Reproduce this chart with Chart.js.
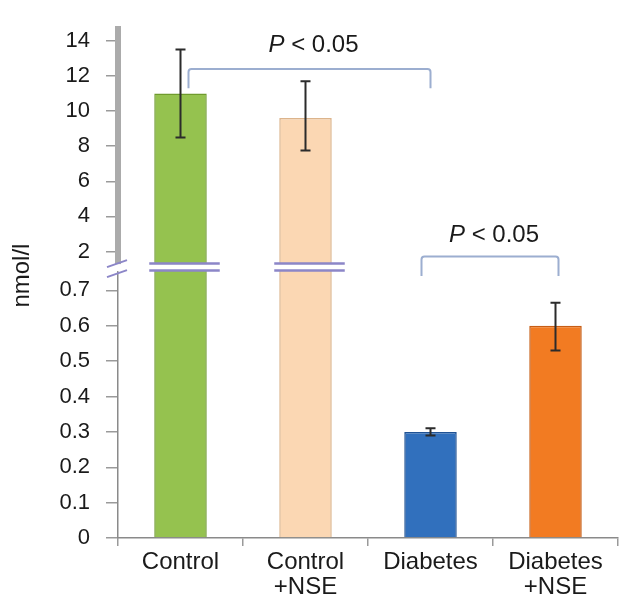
<!DOCTYPE html>
<html>
<head>
<meta charset="utf-8">
<script src="https://cdn.jsdelivr.net/npm/chart.js@4/dist/chart.umd.min.js"></script>
<style>
    html, body { margin: 0; padding: 0; background: #fff; }
</style>
</head>
<body>
<canvas id="barChart" width="619" height="600"></canvas>
<script>
// data
const categories = [['Control'], ['Control', '+NSE'], ['Diabetes'], ['Diabetes', '+NSE']];
const values = [11, 9.6, 0.3, 0.6];
const errHigh = [13.5, 11.7, 0.31, 0.665];
const errLow = [8.5, 7.75, 0.29, 0.53];
const upperTicks = [2, 4, 6, 8, 10, 12, 14];
const lowerTicks = [0, 0.1, 0.2, 0.3, 0.4, 0.5, 0.6, 0.7];
const barColors = ['#95c24f', '#fbd7b3', '#3170bd', '#f27b22'];
const edgeColors = ['#6f9b2d', '#dcb48c', '#1f5294', '#c75d14'];

// broken axis limits
const lowMin = 0, lowMax = 0.766;
const highMin = 1.116, highMax = 14.66;

// significance brackets
const brackets = [
    { from: 0, to: 2, dxFrom: 8, dxTo: 0, axis: 'yHigh', top: 12.4, legs: 11.3, label: 13.75 },
    { from: 2, to: 3, dxFrom: -9, dxTo: 3, axis: 'yLow', top: 0.796, legs: 0.741, label: 0.856 }
];

const FONT = '"Liberation Sans", Arial, sans-serif';

window.onload = function () {
    const ctx = document.getElementById('barChart');

    const errorBars = {
        id: 'errorBars',
        afterDatasetsDraw(chart) {
            const c = chart.ctx;
            const meta = chart.getDatasetMeta(0);
            c.save();
            c.strokeStyle = '#2b2b2b';
            c.lineWidth = 2;
            values.forEach(function (v, i) {
                const scale = v > highMin ? chart.scales.yHigh : chart.scales.yLow;
                const x = meta.data[i].x;
                const yTop = scale.getPixelForValue(errHigh[i]);
                const yBot = scale.getPixelForValue(errLow[i]);
                c.beginPath();
                c.moveTo(x, yTop); c.lineTo(x, yBot);
                c.moveTo(x - 5, yTop); c.lineTo(x + 5, yTop);
                c.moveTo(x - 5, yBot); c.lineTo(x + 5, yBot);
                c.stroke();
            });
            c.restore();
        }
    };

    const axisBreak = {
        id: 'axisBreak',
        afterDatasetsDraw(chart) {
            const c = chart.ctx;
            const yb = chart.scales.yLow.top;
            const meta = chart.getDatasetMeta(0);
            c.save();
            values.forEach(function (v, i) {
                if (v <= lowMax) return;
                const bar = meta.data[i];
                const l = bar.x - bar.width / 2 - 5;
                const r = bar.x + bar.width / 2 + 13;
                c.fillStyle = '#ffffff';
                c.fillRect(l, yb - 3, r - l, 6);
                c.strokeStyle = '#8c86c8';
                c.lineWidth = 2.5;
                c.beginPath();
                c.moveTo(l, yb - 3.5); c.lineTo(r, yb - 3.5);
                c.moveTo(l, yb + 3.5); c.lineTo(r, yb + 3.5);
                c.stroke();
            });
            // slashes on the y axis
            const ax = chart.chartArea.left;
            c.fillStyle = '#ffffff';
            c.fillRect(ax - 4, yb - 3, 8, 7);
            c.strokeStyle = '#8c86c8';
            c.lineWidth = 2;
            c.beginPath();
            c.moveTo(ax - 11, yb + 0); c.lineTo(ax + 9, yb - 7);
            c.moveTo(ax - 11, yb + 10); c.lineTo(ax + 9, yb + 3);
            c.stroke();
            c.restore();
        }
    };

    const annotations = {
        id: 'annotations',
        afterDraw(chart) {
            const c = chart.ctx;
            const meta = chart.getDatasetMeta(0);
            c.save();
            brackets.forEach(function (b) {
                const scale = chart.scales[b.axis];
                const x1 = meta.data[b.from].x + b.dxFrom;
                const x2 = meta.data[b.to].x + b.dxTo;
                const yt = scale.getPixelForValue(b.top);
                const yl = scale.getPixelForValue(b.legs);
                c.strokeStyle = '#9caed0';
                c.lineWidth = 2;
                c.beginPath();
                c.moveTo(x1, yl);
                c.lineTo(x1, yt + 3);
                c.quadraticCurveTo(x1, yt, x1 + 3, yt);
                c.lineTo(x2 - 3, yt);
                c.quadraticCurveTo(x2, yt, x2, yt + 3);
                c.lineTo(x2, yl);
                c.stroke();

                // "P < 0.05" with italic P
                const yLab = scale.getPixelForValue(b.label);
                c.fillStyle = '#1a1a1a';
                c.textBaseline = 'middle';
                c.font = 'italic 24px ' + FONT;
                const pW = c.measureText('P').width;
                c.font = '24px ' + FONT;
                const rest = ' < 0.05';
                const rW = c.measureText(rest).width;
                const xs = (x1 + x2) / 2 + 4 - (pW + rW) / 2;
                c.font = 'italic 24px ' + FONT;
                c.textAlign = 'left';
                c.fillText('P', xs, yLab);
                c.font = '24px ' + FONT;
                c.fillText(rest, xs + pW, yLab);
            });

            // y axis title
            const area = chart.chartArea;
            c.translate(22, (area.top + area.bottom) / 2 - 8);
            c.rotate(-Math.PI / 2);
            c.textAlign = 'center';
            c.textBaseline = 'middle';
            c.fillStyle = '#1a1a1a';
            c.font = '24px ' + FONT;
            c.fillText('nmol/l', 0, 0);
            c.restore();
        }
    };

    const yTickFont = { family: FONT, size: 22 };

    new Chart(ctx, {
        type: 'bar',
        data: {
            labels: categories,
            datasets: [{
                // lower part of every bar
                data: values.map(function (v) { return Math.min(v, lowMax); }),
                yAxisID: 'yLow',
                backgroundColor: barColors,
                borderColor: edgeColors,
                borderWidth: 1.5
            }, {
                // upper part of the tall bars
                data: values.map(function (v) { return v > highMin ? [highMin, v] : null; }),
                yAxisID: 'yHigh',
                backgroundColor: barColors,
                borderColor: edgeColors,
                borderWidth: 1.5
            }]
        },
        options: {
            responsive: false,
            animation: false,
            devicePixelRatio: 1,
            grouped: false,
            barPercentage: 0.42,
            categoryPercentage: 1,
            layout: {
                padding: { top: 14, left: 0, right: 1, bottom: 0 }
            },
            plugins: {
                legend: { display: false },
                tooltip: { enabled: false }
            },
            scales: {
                x: {
                    grid: {
                        offset: true,
                        drawOnChartArea: false,
                        tickLength: 8,
                        color: '#9a9a9a',
                        lineWidth: 1.5
                    },
                    border: { color: '#8a8a8a', width: 1.5 },
                    ticks: {
                        font: { family: FONT, size: 24, lineHeight: 1.05 },
                        color: '#1a1a1a',
                        padding: 4,
                        maxRotation: 0
                    },
                    afterFit(scale) { scale.height = 62; }
                },
                yLow: {
                    type: 'linear',
                    position: 'left',
                    stack: 'broken',
                    stackWeight: 279,
                    min: lowMin,
                    max: lowMax,
                    afterBuildTicks(scale) {
                        scale.ticks = lowerTicks.map(function (v) { return { value: v }; });
                    },
                    afterFit(scale) { scale.width = 118; },
                    grid: {
                        drawOnChartArea: false,
                        tickLength: 12,
                        color: '#9a9a9a',
                        lineWidth: 1.5
                    },
                    border: { color: '#8a8a8a', width: 1.5 },
                    ticks: {
                        font: yTickFont,
                        color: '#1a1a1a',
                        padding: 16,
                        autoSkip: false,
                        callback: function (v) { return String(v); }
                    }
                },
                yHigh: {
                    type: 'linear',
                    position: 'left',
                    stack: 'broken',
                    stackWeight: 245,
                    min: highMin,
                    max: highMax,
                    afterBuildTicks(scale) {
                        scale.ticks = upperTicks.map(function (v) { return { value: v }; });
                    },
                    afterFit(scale) { scale.width = 118; },
                    grid: {
                        drawOnChartArea: false,
                        tickLength: 12,
                        color: '#9a9a9a',
                        lineWidth: 1.5
                    },
                    border: { color: '#ababab', width: 6, dash: [1.5, 1.5] },
                    ticks: {
                        font: yTickFont,
                        color: '#1a1a1a',
                        padding: 16,
                        autoSkip: false,
                        callback: function (v) { return String(v); }
                    }
                }
            }
        },
        plugins: [errorBars, axisBreak, annotations]
    });
};
</script>
</body>
</html>
